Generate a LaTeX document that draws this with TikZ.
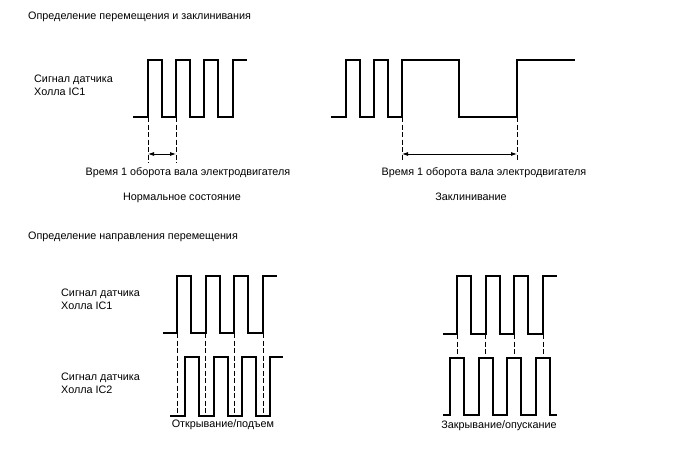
\documentclass[tikz,border=0pt]{standalone}
\usepackage{fontspec}
\setmainfont{Liberation Sans}
\usetikzlibrary{arrows.meta}

\begin{document}
\begin{tikzpicture}[x=1pt, y=-1pt,
    signal/.style={line width=1.7pt},
    guide/.style={line width=0.8pt, dash pattern=on 5pt off 2.5pt},
    span/.style={line width=0.8pt, {Latex[length=6pt,width=4pt]}-{Latex[length=6pt,width=4pt]}},
    txt/.style={font=\fontsize{10.8}{12.8}\selectfont, inner sep=0pt},
    sig/.style={txt, align=left, anchor=west}]
    \useasboundingbox (0,0) rectangle (688,463);

    % titles
    \node [txt, anchor=west] (move) at (28,17) {Определение перемещения и заклинивания};
    \node [txt, anchor=west] (dir) at (28,237) {Определение направления перемещения};

    % normal state
    \node [sig] (normsig) at (34,85) {Сигнал датчика\\Холла IC1};
    \draw [signal] (133,117) \foreach \x in {148,176,204} {
        -- (\x,117) -- (\x,60) -- (\x+14,60) -- (\x+14,117)} -- (233,117) -- (233,60) -- (247,60);
    \foreach \x in {148,176} {
        \draw [guide] (\x,117) -- (\x,163);
    }
    \coordinate (normA) at (148,154);
    \coordinate (normB) at (176,154);
    \draw [span] (normA) -- (normB);
    \node [txt] (normrev) at (188,173) {Время 1 оборота вала электродвигателя};
    \node [txt] (norm) at (182,198) {Нормальное состояние};

    % stuck
    \draw [signal] (331,117) \foreach \x in {346,374} {
        -- (\x,117) -- (\x,60) -- (\x+14,60) -- (\x+14,117)} -- (402,117) -- (402,60) -- (459,60)
        -- (459,117) -- (517,117) -- (517,60) -- (575,60);
    \foreach \x in {402,517} {
        \draw [guide] (\x,117) -- (\x,161);
    }
    \coordinate (stuckA) at (402,154);
    \coordinate (stuckB) at (517,154);
    \draw [span] (stuckA) -- (stuckB);
    \node [txt] (stuckrev) at (484,173) {Время 1 оборота вала электродвигателя};
    \node [txt] (stuck) at (471,197) {Заклинивание};

    % opening
    \node [sig] (opensigA) at (61,299) {Сигнал датчика\\Холла IC1};
    \node [sig] (opensigB) at (61,383) {Сигнал датчика\\Холла IC2};
    \draw [signal] (163,333) \foreach \x in {177,205.7,234.3} {
        -- (\x,333) -- (\x,276) -- (\x+14,276) -- (\x+14,333)} -- (263,333) -- (263,276) -- (277,276);
    \draw [signal] (170,416) \foreach \x in {185,213.7,242.3} {
        -- (\x,416) -- (\x,357) -- (\x+14,357) -- (\x+14,416)} -- (270,416) -- (270,357) -- (283,357);
    \foreach \x in {177,205.7,234.3,263} {
        \draw [guide] (\x,333) -- (\x,416);
    }
    \node [txt] (open) at (223,425) {Открывание/подъем};

    % closing
    \draw [signal] (443,334) \foreach \x in {457,485.7,514.3} {
        -- (\x,334) -- (\x,276) -- (\x+14,276) -- (\x+14,334)} -- (543,334) -- (543,276) -- (557,276);
    \draw [signal] (443,415) \foreach \x in {450,478.7,507.3,536} {
        -- (\x,415) -- (\x,358) -- (\x+14,358) -- (\x+14,415)} -- (557,415);
    \foreach \x in {457,485.7,514.3,543} {
        \draw [guide] (\x,334) -- (\x,358);
    }
    \node [txt] (close) at (499,426) {Закрывание/опускание};
\end{tikzpicture}
\end{document}
